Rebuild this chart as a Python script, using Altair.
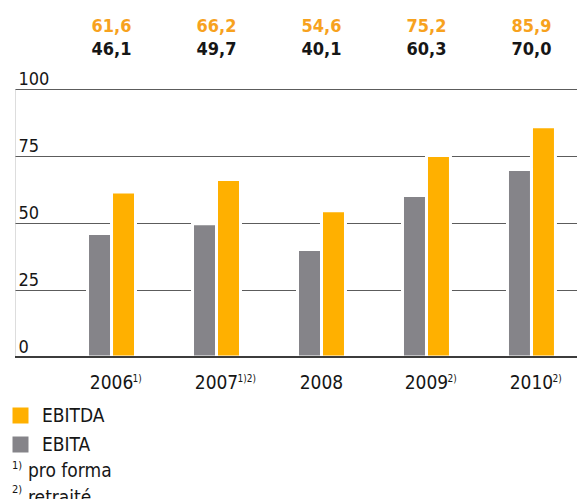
import altair as alt
import pandas as pd

# ---- data ----
years = ["2006", "2007", "2008", "2009", "2010"]
ebitda = [61.6, 66.2, 54.6, 75.2, 85.9]
ebita = [46.1, 49.7, 40.1, 60.3, 70.0]
year_notes = ["1)", "1)2)", "", "2)", "2)"]
series_legend_order = ["EBITDA", "EBITA"]
series_bar_order = ["EBITA", "EBITDA"]
y_ticks = [0, 25, 50, 75, 100]
note_marks = ["1)", "2)"]
note_texts = ["pro forma", "retraité"]

ORANGE = "#FFB000"
ORANGE_TXT = "#F7A21E"
GRAY = "#858489"
TXT = "#161616"
FONT = "DejaVu Sans Condensed, Liberation Sans Narrow, sans-serif"


def fmt(v):
    return f"{v:.1f}".replace(".", ",")


long_df = pd.DataFrame({
    "year": years * 2,
    "series": ["EBITDA"] * len(years) + ["EBITA"] * len(years),
    "value": ebitda + ebita,
})
wide_df = pd.DataFrame({
    "year": years,
    "ebitda_txt": [fmt(v) for v in ebitda],
    "ebita_txt": [fmt(v) for v in ebita],
    "note": year_notes,
})

x_enc = alt.X(
    "year:N", sort=years, title=None,
    scale=alt.Scale(paddingInner=0.543, paddingOuter=0.448, align=0.771),
    axis=alt.Axis(domain=False, ticks=False, labelAngle=0, labelFont=FONT,
                  labelFontSize=19, labelColor=TXT, labelBaseline="alphabetic",
                  labelPadding=31),
)

y_enc = alt.Y(
    "value:Q", title=None,
    scale=alt.Scale(domain=[0, 100], nice=False),
    axis=alt.Axis(values=y_ticks, domain=False, ticks=False, grid=True,
                  gridColor="#5c5c5c", gridWidth=1.2, labelAlign="left",
                  labelBaseline="alphabetic", labelPadding=-3, labelOffset=-5,
                  labelFont=FONT, labelFontSize=18, labelColor=TXT),
)

bars = alt.Chart(long_df).mark_bar(stroke="white", strokeWidth=3).encode(
    x=x_enc,
    xOffset=alt.XOffset("series:N", sort=series_bar_order,
                        scale=alt.Scale(paddingInner=0, paddingOuter=0)),
    y=y_enc,
    color=alt.Color(
        "series:N",
        scale=alt.Scale(domain=series_legend_order, range=[ORANGE, GRAY]),
        legend=alt.Legend(
            title=None, orient="none", legendX=-4, legendY=317,
            direction="vertical", padding=0, rowPadding=9,
            symbolType="square", symbolSize=256, symbolStrokeWidth=0,
            symbolOpacity=1, labelFont=FONT, labelFontSize=19,
            labelColor=TXT, labelOffset=12,
        ),
    ),
)

baseline = alt.Chart(long_df).mark_rule(color="#3c3c3c", strokeWidth=1.5).encode(
    y=alt.datum(0)
)

top_orange = alt.Chart(wide_df).mark_text(
    font=FONT, fontWeight="bold", fontSize=18, color=ORANGE_TXT,
    baseline="alphabetic", align="center",
).encode(x=x_enc, y=alt.value(-57), text="ebitda_txt:N")

top_black = alt.Chart(wide_df).mark_text(
    font=FONT, fontWeight="bold", fontSize=18, color=TXT,
    baseline="alphabetic", align="center",
).encode(x=x_enc, y=alt.value(-34), text="ebita_txt:N")

year_sup = alt.Chart(wide_df).mark_text(
    font=FONT, fontSize=10, color=TXT, baseline="alphabetic", align="left", dx=21,
).encode(x=x_enc, y=alt.value(293), text="note:N")


def text_layer(txt, x, y, size):
    return alt.Chart(pd.DataFrame({"t": [txt]})).mark_text(
        font=FONT, fontSize=size, color=TXT, baseline="alphabetic", align="left",
    ).encode(x=alt.value(x), y=alt.value(y), text="t:N")


foot = (
    text_layer(note_marks[0], -3, 380, 11)
    + text_layer(note_texts[0], 13, 388, 19)
    + text_layer(note_marks[1], -3, 404, 11)
    + text_layer(note_texts[1], 13, 415, 19)
)

chart = alt.layer(bars, baseline, top_orange, top_black, year_sup, foot).properties(
    width=562, height=268,
    autosize=alt.AutoSizeParams(type="none"),
    padding={"left": 7, "top": 81, "right": 0, "bottom": 142},
).configure_view(stroke=None).configure(background="white")

chart.save("out.html", embed_options={"renderer": "svg", "actions": False})
